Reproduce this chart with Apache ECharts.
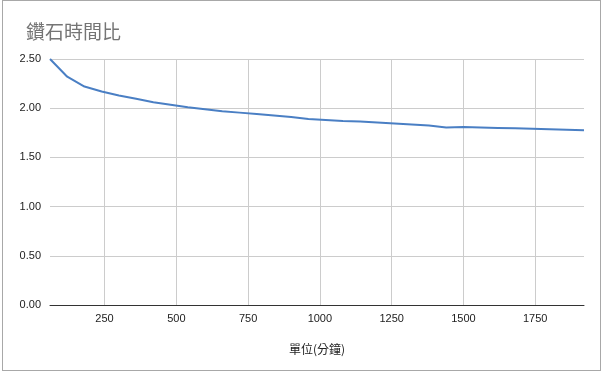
<!DOCTYPE html>
<html>
<head>
<meta charset="utf-8">
<script src="https://cdn.jsdelivr.net/npm/echarts@6/dist/echarts.min.js"></script>
<style>
html,body{margin:0;padding:0;background:#fff;}
#chart{width:603px;height:374px;position:absolute;left:0;top:0;}
#frame{position:absolute;left:2px;top:0px;width:597px;height:369px;border:1px solid #a8a8a8;pointer-events:none;}
</style>
</head>
<body>
<div id="chart"></div>
<div id="frame"></div>
<script>
const titleText = '鑽石時間比';
const xAxisName = '單位(分鐘)';
const minutes = [60,120,180,240,300,360,420,480,540,600,660,720,780,840,900,960,1020,1080,1140,1200,1260,1320,1380,1440,1500,1560,1620,1680,1740,1800,1860,1920];
const ratio = [2.50,2.32,2.22,2.17,2.13,2.095,2.06,2.035,2.01,1.99,1.97,1.955,1.94,1.925,1.91,1.89,1.88,1.87,1.865,1.855,1.845,1.835,1.825,1.805,1.81,1.805,1.80,1.795,1.79,1.785,1.78,1.775];
const xTicks = [250,500,750,1000,1250,1500,1750];

const chart = echarts.init(document.getElementById('chart'));
chart.setOption({
  animation: false,
  title: {
    text: titleText,
    left: 21, top: 17,
    textStyle: {fontFamily: 'Noto Sans CJK TC', fontSize: 19, fontWeight: 'normal', color: '#757575'}
  },
  grid: {left: 50, right: 19, top: 59, bottom: 69},
  xAxis: {
    type: 'value',
    min: minutes[0], max: minutes[minutes.length-1],
    name: xAxisName,
    nameLocation: 'middle',
    nameGap: 38,
    nameTextStyle: {fontFamily: 'Noto Sans CJK TC', fontSize: 12, color: '#222'},
    axisLine: {show: true, lineStyle: {color: '#333333', width: 1}},
    axisTick: {show: false, customValues: xTicks},
    axisLabel: {customValues: xTicks, margin: 8, fontFamily: 'Liberation Sans', fontSize: 11, color: '#222', formatter: v => String(v)},
    splitLine: {show: true, lineStyle: {color: '#cccccc', width: 1}}
  },
  yAxis: {
    type: 'value',
    min: 0, max: 2.5, interval: 0.5,
    axisLine: {show: false},
    axisTick: {show: false},
    axisLabel: {margin: 9, fontFamily: 'Liberation Sans', fontSize: 11, color: '#222', formatter: v => v.toFixed(2)},
    splitLine: {show: true, lineStyle: {color: '#cccccc', width: 1}}
  },
  series: [{
    type: 'line',
    data: minutes.map((m, i) => [m, ratio[i]]),
    showSymbol: false,
    symbol: 'none',
    lineStyle: {color: '#4a7fc4', width: 2},
    itemStyle: {color: '#4a7fc4'},
    z: 3
  }]
});
</script>
</body>
</html>
